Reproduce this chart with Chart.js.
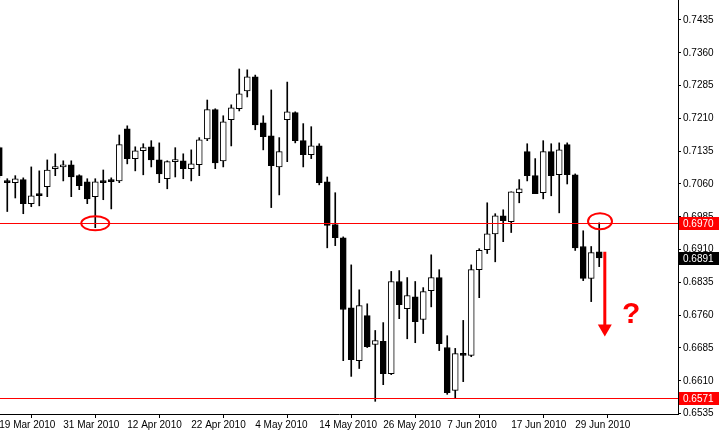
<!DOCTYPE html>
<html>
<head>
<meta charset="utf-8">
<script src="https://cdn.jsdelivr.net/npm/chart.js@4/dist/chart.umd.min.js"></script>
<style>
  html, body { margin: 0; padding: 0; background: #fff; }
  #wrap { width: 719px; height: 436px; position: relative; }
</style>
</head>
<body>
<div id="wrap"><canvas id="chart"></canvas></div>
<script>
// Daily candles, 19 Mar 2010 .. 2 Jul 2010
const dates = ["19 Mar 2010","22 Mar 2010","23 Mar 2010","24 Mar 2010","25 Mar 2010","26 Mar 2010","29 Mar 2010","30 Mar 2010",
  "31 Mar 2010","1 Apr 2010","2 Apr 2010","5 Apr 2010","6 Apr 2010","7 Apr 2010","8 Apr 2010","9 Apr 2010",
  "12 Apr 2010","13 Apr 2010","14 Apr 2010","15 Apr 2010","16 Apr 2010","19 Apr 2010","20 Apr 2010","21 Apr 2010",
  "22 Apr 2010","23 Apr 2010","26 Apr 2010","27 Apr 2010","28 Apr 2010","29 Apr 2010","30 Apr 2010","3 May 2010",
  "4 May 2010","5 May 2010","6 May 2010","7 May 2010","10 May 2010","11 May 2010","12 May 2010","13 May 2010",
  "14 May 2010","17 May 2010","18 May 2010","19 May 2010","20 May 2010","21 May 2010","24 May 2010","25 May 2010",
  "26 May 2010","27 May 2010","28 May 2010","31 May 2010","1 Jun 2010","2 Jun 2010","3 Jun 2010","4 Jun 2010",
  "7 Jun 2010","8 Jun 2010","9 Jun 2010","10 Jun 2010","11 Jun 2010","14 Jun 2010","15 Jun 2010","16 Jun 2010",
  "17 Jun 2010","18 Jun 2010","21 Jun 2010","22 Jun 2010","23 Jun 2010","24 Jun 2010","25 Jun 2010","28 Jun 2010",
  "29 Jun 2010","30 Jun 2010","1 Jul 2010","2 Jul 2010"];

const opens = [.7143,.7067,.7063,.7070,.7015,.7038,.7054,.7095,.7099,.7104,.7079,.7065,.7031,.7067,.7070,.7067,
  .7186,.7118,.7136,.7145,.7115,.7072,.7111,.7113,.7095,.7104,.7163,.7230,.7113,.7207,.7232,.7273,
  .7305,.7200,.7170,.7099,.7207,.7223,.7159,.7127,.7147,.7065,.6967,.6937,.6777,.6656,.6759,.6693,
  .6700,.6626,.6837,.6775,.6802,.6750,.6816,.6846,.6686,.6588,.6672,.6668,.6864,.6910,.6946,.6987,
  .6974,.7040,.7134,.7079,.7040,.7134,.7081,.7150,.7081,.6917,.6844,.6905];
const highs = [.7145,.7072,.7079,.7074,.7099,.7090,.7115,.7129,.7113,.7113,.7081,.7072,.7072,.7092,.7074,.7172,
  .7193,.7145,.7152,.7159,.7154,.7113,.7143,.7129,.7138,.7166,.7252,.7232,.7216,.7241,.7323,.7321,
  .7309,.7216,.7275,.7166,.7293,.7225,.7198,.7191,.7152,.7076,.7040,.6939,.6875,.6818,.6786,.6725,
  .6743,.6860,.6862,.6846,.6837,.6823,.6898,.6864,.6713,.6684,.6748,.6875,.6912,.7017,.6992,.7001,
  .7042,.7070,.7152,.7118,.7159,.7152,.7154,.7154,.7083,.6953,.6917,.6971];
const lows = [.7074,.6997,.7028,.6992,.7008,.7010,.7031,.7079,.7067,.7031,.7047,.7015,.6960,.7024,.7003,.7063,
  .7106,.7090,.7081,.7099,.7063,.7049,.7076,.7072,.7067,.7079,.7159,.7095,.7099,.7147,.7227,.7259,
  .7184,.7138,.7006,.7035,.7111,.7154,.7099,.7118,.7058,.6914,.6919,.6656,.6620,.6638,.6686,.6563,
  .6601,.6624,.6752,.6706,.6697,.6718,.6779,.6679,.6579,.6569,.6608,.6665,.6800,.6901,.6882,.6928,
  .6949,.7017,.7067,.7038,.7026,.7033,.6994,.7060,.6908,.6839,.6791,.6871];
const closes = [.7079,.7063,.7072,.7015,.7033,.7033,.7092,.7099,.7104,.7076,.7056,.7026,.7065,.7063,.7065,.7150,
  .7118,.7136,.7143,.7115,.7083,.7111,.7115,.7095,.7106,.7161,.7230,.7108,.7202,.7234,.7266,.7305,
  .7195,.7168,.7102,.7134,.7225,.7159,.7127,.7147,.7063,.6965,.6937,.6773,.6658,.6782,.6688,.6702,
  .6626,.6837,.6784,.6805,.6745,.6814,.6846,.6695,.6583,.6672,.6668,.6864,.6908,.6946,.6987,.6976,
  .7042,.7049,.7079,.7038,.7134,.7079,.7138,.7081,.6914,.6844,.6903,.6891];

const yTicks = [0.7435,0.7360,0.7285,0.7210,0.7135,0.7060,0.6985,0.6910,0.6835,0.6760,0.6685,0.6610,0.6535];
const redLevels = [0.6970, 0.6571];
const lastPrice = 0.6891;
const circles = [{ i: 12, p: 0.6970, rx: 14, ry: 7 }, { i: 75.1, p: 0.6975, rx: 12, ry: 8 }];
const arrow = { i: 75.7, from: 0.6905, to: 0.6725 };
const question = { i: 79, p: 0.6760 };

const FONT = "'Liberation Sans', Arial, sans-serif";

const wicks = opens.map((o, i) => ({ x: i, y: [lows[i], highs[i]] }));
const bodies = opens.map((o, i) => ({ x: i, y: [Math.min(o, closes[i]), Math.max(o, closes[i])] }));
const bodyFill = opens.map((o, i) => (closes[i] >= o ? "#ffffff" : "#000000"));

const extras = {
  id: "extras",
  afterDatasetsDraw(chart) {
    const { ctx, chartArea: a, scales: { x, y } } = chart;
    ctx.save();
    // red horizontal levels
    ctx.strokeStyle = "#ff0000";
    ctx.lineWidth = 1;
    redLevels.forEach((v) => {
      const py = Math.round(y.getPixelForValue(v)) + 0.5;
      ctx.beginPath(); ctx.moveTo(a.left, py); ctx.lineTo(a.right, py); ctx.stroke();
    });
    // ellipses
    ctx.lineWidth = 2;
    circles.forEach((c) => {
      ctx.beginPath();
      ctx.ellipse(x.getPixelForValue(c.i), y.getPixelForValue(c.p), c.rx, c.ry, 0, 0, Math.PI * 2);
      ctx.stroke();
    });
    // arrow
    const ax = x.getPixelForValue(arrow.i);
    const y1 = y.getPixelForValue(arrow.from), y2 = y.getPixelForValue(arrow.to);
    ctx.lineWidth = 3;
    ctx.beginPath(); ctx.moveTo(ax, y1); ctx.lineTo(ax, y2 - 4); ctx.stroke();
    ctx.fillStyle = "#ff0000";
    ctx.beginPath(); ctx.moveTo(ax - 7, y2 - 6); ctx.lineTo(ax + 7, y2 - 6); ctx.lineTo(ax, y2 + 6); ctx.closePath(); ctx.fill();
    // question mark
    ctx.font = "bold 30px " + FONT;
    ctx.textAlign = "center"; ctx.textBaseline = "middle";
    ctx.fillText("?", x.getPixelForValue(question.i), y.getPixelForValue(question.p));
    ctx.restore();
  },
  afterDraw(chart) {
    const { ctx, scales: { y } } = chart;
    ctx.save();
    ctx.font = "10px " + FONT;
    ctx.textBaseline = "middle";
    const boxes = [[redLevels[0], "#ff0000"], [redLevels[1], "#ff0000"], [lastPrice, "#000000"]];
    boxes.forEach(([v, col]) => {
      const py = Math.round(y.getPixelForValue(v));
      ctx.fillStyle = col;
      ctx.fillRect(679, py - 6, 40, 13);
      ctx.fillStyle = "#ffffff";
      ctx.fillText(v.toFixed(4), 683, py + 1);
    });
    ctx.restore();
  }
};

new Chart(document.getElementById("chart"), {
  type: "bar",
  data: {
    datasets: [
      { data: bodies, backgroundColor: bodyFill, borderColor: "#000", borderWidth: 1, borderSkipped: false,
        barThickness: 6, minBarLength: 2, grouped: false, order: 1 },
      { data: wicks, backgroundColor: "#000", borderWidth: 0, barThickness: 1, grouped: false, order: 2 }
    ]
  },
  options: {
    responsive: true,
    maintainAspectRatio: false,
    animation: false,
    layout: { padding: 0 },
    plugins: { legend: { display: false }, tooltip: { enabled: false } },
    scales: {
      x: {
        type: "linear",
        min: 0.09,
        max: 84.85,
        offset: false,
        afterBuildTicks: (ax) => { ax.ticks = [0, 8, 16, 24, 32, 40, 48, 56, 64, 72].map((v) => ({ value: v })); },
        afterFit: (ax) => { ax.height = 22; ax.paddingLeft = 0; ax.paddingRight = 0; },
        grid: { drawOnChartArea: false, tickLength: 4, color: "#000" },
        border: { color: "#000" },
        ticks: { align: "start", maxRotation: 0, autoSkip: false, padding: 1, color: "#000",
          font: { family: FONT, size: 10 }, callback: (v) => dates[v] || "" }
      },
      y: {
        position: "right",
        min: 0.6534,
        max: 0.74807,
        afterBuildTicks: (ax) => { ax.ticks = yTicks.map((v) => ({ value: v })); },
        afterFit: (ax) => { ax.width = 41; ax.paddingTop = 0; ax.paddingBottom = 0; },
        grid: { drawOnChartArea: false, tickLength: 3, color: "#000" },
        border: { color: "#000" },
        ticks: { padding: 2, color: "#000", font: { family: FONT, size: 10 }, callback: (v) => v.toFixed(4) }
      }
    }
  },
  plugins: [extras]
});
</script>
</body>
</html>
